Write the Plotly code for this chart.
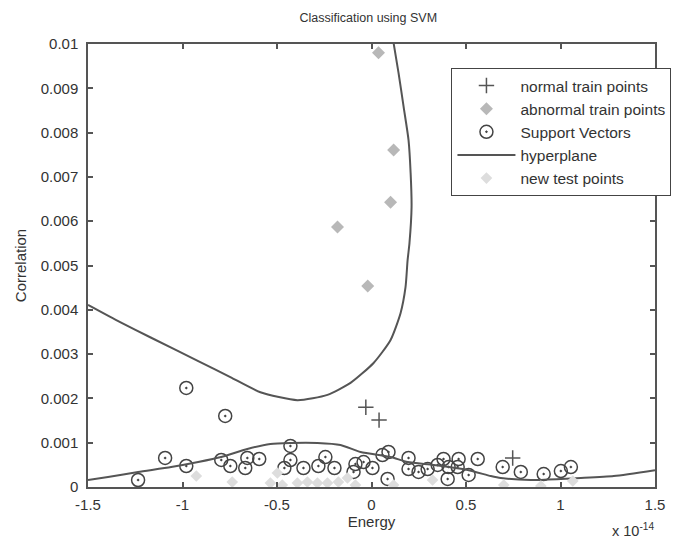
import plotly.graph_objects as go

# Energy values are in units of 1e-14
normal_x = [-0.03, 0.04, 0.747]
normal_y = [0.00180, 0.00151, 0.000655]

abnormal_x = [0.037, 0.117, 0.101, -0.180, -0.02]
abnormal_y = [0.00980, 0.00761, 0.00643, 0.00587, 0.00454]

sv_x = [-1.235, -1.092, -0.980, -0.980, -0.795, -0.774, -0.747, -0.657, -0.668, -0.594,
        -0.429, -0.429, -0.461, -0.360, -0.281, -0.244, -0.196, -0.085, -0.095, -0.042,
        0.005, 0.058, 0.090, 0.085, 0.196, 0.196, 0.249, 0.297, 0.350, 0.381,
        0.408, 0.461, 0.456, 0.562, 0.514, 0.403, 0.694, 0.790, 0.911, 1.002, 1.055]
sv_y = [0.000158, 0.000655, 0.000474, 0.002235, 0.000610, 0.001603, 0.000474, 0.000655, 0.000429, 0.000632,
        0.000926, 0.000609, 0.000429, 0.000429, 0.000474, 0.000677, 0.000429, 0.000519, 0.000339, 0.000564,
        0.000429, 0.000722, 0.000790, 0.000181, 0.000655, 0.000406, 0.000339, 0.000406, 0.000497, 0.000632,
        0.000451, 0.000632, 0.000451, 0.000632, 0.000271, 0.000181, 0.000451, 0.000339, 0.000293, 0.000361, 0.000451]

# hyperplane: upper branch then lower branch
hyp_upper_x = [-1.5, -1.33, -1.171, -0.906, -0.747, -0.588, -0.392, -0.233, -0.111, 0.011,
               0.101, 0.154, 0.180, 0.191, 0.201, 0.212, 0.207, 0.196, 0.170, 0.143, 0.117]
hyp_upper_y = [0.00411, 0.00372, 0.00338, 0.00282, 0.00248, 0.00214, 0.00196, 0.00208, 0.00235, 0.00280,
               0.00332, 0.00393, 0.00451, 0.00512, 0.00551, 0.00632, 0.00709, 0.00783, 0.00858, 0.00935, 0.01002]
hyp_lower_x = [-1.5, -1.394, -1.235, -1.060, -0.917, -0.795, -0.657, -0.535, -0.429, -0.286,
               -0.164, -0.058, 0.101, 0.191, 0.329, 0.509, 0.631, 0.684, 0.843, 1.002,
               1.108, 1.282, 1.5]
hyp_lower_y = [0.000158, 0.000226, 0.000339, 0.000451, 0.000564, 0.000677, 0.000858, 0.000971, 0.000993, 0.000993,
               0.000948, 0.000790, 0.000677, 0.000564, 0.000497, 0.000384, 0.000248, 0.000203, 0.000158, 0.000181,
               0.000203, 0.000248, 0.000380]

test_x = [-0.927, -0.737, -0.535, -0.498, -0.472, -0.392, -0.339, -0.286, -0.233, -0.175,
          -0.127, -0.085, 0.117, 0.323, 0.700, 0.896, 1.065]
test_y = [0.000248, 0.000113, 0.000090, 0.000316, 0.000045, 0.000090, 0.000113, 0.000090, 0.000090, 0.000113,
          0.000203, 0.000045, 0.000045, 0.000158, 0.000045, 0.000023, 0.000135]

x_ticks = [-1.5, -1, -0.5, 0, 0.5, 1, 1.5]
x_labels = ["-1.5", "-1", "-0.5", "0", "0.5", "1", "1.5"]
y_ticks = [0, 0.001, 0.002, 0.003, 0.004, 0.005, 0.006, 0.007, 0.008, 0.009, 0.01]
y_labels = ["0", "0.001", "0.002", "0.003", "0.004", "0.005", "0.006", "0.007", "0.008", "0.009", "0.01"]

FONT = "Liberation Sans, Arial, sans-serif"
TXT = "#333333"
AX = "#555555"

fig = go.Figure()
fig.add_trace(go.Scatter(x=normal_x, y=normal_y, mode="markers", name="normal train points",
                         legendgroup="a",
                         marker=dict(symbol="cross-thin-open", size=11, color="#555555",
                                     line=dict(color="#555555", width=1.5))))
fig.add_trace(go.Scatter(x=abnormal_x, y=abnormal_y, mode="markers", name="abnormal train points",
                         legendgroup="b",
                         marker=dict(symbol="diamond", size=10, color="#b8b8b8", line=dict(width=0))))
fig.add_trace(go.Scatter(x=sv_x, y=sv_y, mode="markers", name="Support Vectors",
                         legendgroup="c",
                         marker=dict(symbol="circle-open-dot", size=13, color="#444444",
                                     line=dict(color="#444444", width=1.5))))
fig.add_trace(go.Scatter(x=hyp_upper_x + [None] + hyp_lower_x, y=hyp_upper_y + [None] + hyp_lower_y,
                         mode="lines", name="hyperplane", legendgroup="d",
                         line=dict(color="#555555", width=2, shape="spline", smoothing=0.6)))
fig.add_trace(go.Scatter(x=test_x, y=test_y, mode="markers", name="new test points",
                         legendgroup="e",
                         marker=dict(symbol="diamond", size=9, color="#dddddd", line=dict(width=0))))

# page body adds an 8px offset; figure sized so the plot box lands where the reference has it
fig.update_layout(
    width=676, height=531,
    margin=dict(l=80, r=29, t=36, b=52, autoexpand=False),
    paper_bgcolor="white", plot_bgcolor="white",
    font=dict(family=FONT, size=15, color=TXT),
    title=dict(text="Classification using SVM", x=0.533, xanchor="center", y=0.981, yanchor="middle",
               font=dict(family=FONT, size=12.5, color=TXT)),
    legend=dict(x=0.641, y=0.946, xanchor="left", yanchor="top",
                bordercolor="#444444", borderwidth=1, bgcolor="white",
                font=dict(family=FONT, size=15.5, color=TXT),
                tracegroupgap=0, itemwidth=58),
    showlegend=True,
)
fig.update_xaxes(range=[-1.5, 1.5], tickvals=x_ticks, ticktext=x_labels, automargin=False,
                 showgrid=False, zeroline=False, showline=True, linecolor=AX, linewidth=1.5,
                 mirror="ticks", ticks="inside", ticklen=5, tickcolor=AX, tickwidth=1.5,
                 ticklabelstandoff=3, tickfont=dict(family=FONT, size=15, color=TXT),
                 title=dict(text="Energy", standoff=4, font=dict(family=FONT, size=15, color=TXT)))
fig.update_yaxes(range=[0, 0.01], tickvals=y_ticks, ticktext=y_labels, automargin=False,
                 showgrid=False, zeroline=False, showline=True, linecolor=AX, linewidth=1.5,
                 mirror="ticks", ticks="inside", ticklen=5, tickcolor=AX, tickwidth=1.5,
                 ticklabelstandoff=5, tickfont=dict(family=FONT, size=15, color=TXT),
                 title=dict(text="Correlation", standoff=10, font=dict(family=FONT, size=15, color=TXT)))
fig.add_annotation(text="x 10<sup>-14</sup>", xref="paper", yref="paper", x=0.961, y=-0.097,
                   xanchor="center", yanchor="middle", showarrow=False,
                   font=dict(family=FONT, size=14.5, color=TXT))

fig.write_html("out.html")
